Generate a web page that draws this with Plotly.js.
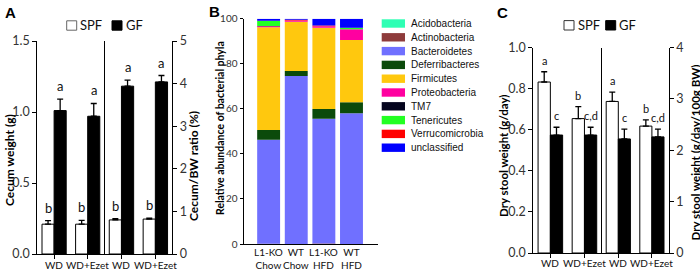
<!DOCTYPE html>
<html>
<head>
<meta charset="utf-8">
<script src="https://cdn.plot.ly/plotly-3.0.1.min.js"></script>
<style>html,body{margin:0;padding:0;background:#fff;}#chart{width:700px;height:271px;}</style>
</head>
<body>
<div id="chart"></div>
<script>
// ---------------- DATA ----------------
// Panel A / C diet groups
const dietGroups = ['WD', 'WD+Ezet'];
const seriesNames = ['SPF', 'GF'];

// Panel A - cecum weight (g), left half
const cecumWeightSPF = [0.21, 0.21];
const cecumWeightSPFErr = [0.025, 0.027];
const cecumWeightGF = [1.01, 0.97];
const cecumWeightGFErr = [0.08, 0.09];
const cecumWeightSPFLetters = ['b', 'b'];
const cecumWeightGFLetters = ['a', 'a'];
// Panel A - cecum/BW ratio (%), right half
const cecumRatioSPF = [0.80, 0.82];
const cecumRatioSPFErr = [0.03, 0.02];
const cecumRatioGF = [3.94, 4.04];
const cecumRatioGFErr = [0.14, 0.15];
const cecumRatioSPFLetters = ['b', 'b'];
const cecumRatioGFLetters = ['a', 'a'];

// Panel B - relative abundance of bacterial phyla (%)
const phylaGroups = ['L1-KO<br>Chow', 'WT<br>Chow', 'L1-KO<br>HFD', 'WT<br>HFD'];
const phylaNames = ['Acidobacteria', 'Actinobacteria', 'Bacteroidetes', 'Deferribacteres', 'Firmicutes',
                    'Proteobacteria', 'TM7', 'Tenericutes', 'Verrucomicrobia', 'unclassified'];
const phylaColors = ['#2EFFB4', '#8E3B3B', '#7070FF', '#0B4A0B', '#FFC80E',
                     '#FF00A0', '#05051E', '#22FF22', '#FF0000', '#0000FF'];
const acidobacteria   = [0.0, 0.0, 0.0, 0.0];
const actinobacteria  = [0.1, 0.0, 0.2, 0.0];
const bacteroidetes   = [46.2, 74.6, 55.4, 58.0];
const deferribacteres = [4.3, 2.2, 4.3, 4.9];
const firmicutes      = [45.6, 21.8, 36.1, 27.6];
const proteobacteria  = [0.5, 0.6, 0.6, 4.8];
const tm7             = [0.1, 0.0, 0.0, 0.0];
const tenericutes     = [2.2, 0.0, 0.1, 0.6];
const verrucomicrobia = [0.1, 0.3, 0.3, 0.1];
const unclassified    = [0.9, 0.5, 3.0, 4.0];
const phylaValues = [acidobacteria, actinobacteria, bacteroidetes, deferribacteres, firmicutes,
                     proteobacteria, tm7, tenericutes, verrucomicrobia, unclassified];

// Panel C - dry stool weight (g/day), left half
const stoolSPF = [0.832, 0.654];
const stoolSPFErr = [0.05, 0.058];
const stoolGF = [0.574, 0.574];
const stoolGFErr = [0.038, 0.038];
const stoolSPFLetters = ['a', 'b'];
const stoolGFLetters = ['c', 'c,d'];
// Panel C - dry stool weight (g/day/100g BW), right half
const stoolBWSPF = [2.95, 2.47];
const stoolBWSPFErr = [0.18, 0.12];
const stoolBWGF = [2.22, 2.26];
const stoolBWGFErr = [0.19, 0.15];
const stoolBWSPFLetters = ['a', 'b'];
const stoolBWGFLetters = ['c', 'c,d'];

// ---------------- LAYOUT HELPERS ----------------
const W = 700, H = 271;
const px = v => v / W;
const py = v => 1 - v / H;
const FONT = 'Lato, "Open Sans", sans-serif';
const ARIAL = '"Liberation Sans", Arial, sans-serif';
const TICKCOL = '#333';
const BW = 0.36; // bar width (category units) for A and C

const traces = [];
const annotations = [];
const shapes = [];

function pairTraces(xa, ya, spf, spfErr, gf, gfErr, spfLet, gfLet, letterSize, tickY) {
  const zeros = spf.map(() => 0);
  traces.push({
    type: 'bar', x: dietGroups, y: spf, xaxis: xa, yaxis: ya, name: seriesNames[0],
    width: BW, offset: -BW, marker: {color: '#fff', line: {color: '#000', width: 1}},
    error_y: {type: 'data', symmetric: false, array: spfErr, arrayminus: zeros, color: '#000', thickness: 1.3, width: 3},
    hoverinfo: 'skip', showlegend: false
  });
  traces.push({
    type: 'bar', x: dietGroups, y: gf, xaxis: xa, yaxis: ya, name: seriesNames[1],
    width: BW, offset: 0, marker: {color: '#000', line: {color: '#000', width: 1}},
    error_y: {type: 'data', symmetric: false, array: gfErr, arrayminus: zeros, color: '#000', thickness: 1.3, width: 3},
    hoverinfo: 'skip', showlegend: false
  });
  dietGroups.forEach((g, i) => {
    annotations.push({xref: xa, yref: ya, x: i - BW / 2, y: spf[i] + spfErr[i], text: spfLet[i],
      showarrow: false, yanchor: 'bottom', yshift: 3, font: {family: FONT, size: letterSize, color: '#111'}});
    annotations.push({xref: xa, yref: ya, x: i + BW / 2, y: gf[i] + gfErr[i], text: gfLet[i],
      showarrow: false, yanchor: 'bottom', yshift: 3, font: {family: FONT, size: letterSize, color: '#111'}});
    // category tick label
    annotations.push({xref: xa, yref: 'paper', x: g, y: py(tickY), text: g, showarrow: false,
      xanchor: 'center', yanchor: 'middle', font: {family: FONT, size: 10, color: '#111'}});
  });
}

pairTraces('x', 'y', cecumWeightSPF, cecumWeightSPFErr, cecumWeightGF, cecumWeightGFErr, cecumWeightSPFLetters, cecumWeightGFLetters, 13, 264.5);
pairTraces('x2', 'y2', cecumRatioSPF, cecumRatioSPFErr, cecumRatioGF, cecumRatioGFErr, cecumRatioSPFLetters, cecumRatioGFLetters, 13, 264.5);
pairTraces('x4', 'y4', stoolSPF, stoolSPFErr, stoolGF, stoolGFErr, stoolSPFLetters, stoolGFLetters, 11, 263);
pairTraces('x5', 'y5', stoolBWSPF, stoolBWSPFErr, stoolBWGF, stoolBWGFErr, stoolBWSPFLetters, stoolBWGFLetters, 11, 263);

// Panel B stacked bars (base = cumulative sum of the phyla below)
let running = phylaGroups.map(() => 0);
phylaValues.forEach((vals, k) => {
  traces.push({
    type: 'bar', x: phylaGroups, y: vals, base: running.slice(), xaxis: 'x3', yaxis: 'y3',
    name: phylaNames[k], width: 0.83, marker: {color: phylaColors[k], line: {width: 0}},
    hoverinfo: 'skip', showlegend: false
  });
  running = running.map((r, i) => r + vals[i]);
});
phylaGroups.forEach(g => {
  annotations.push({xref: 'x3', yref: 'paper', x: g, y: py(258.5), text: g, showarrow: false,
    xanchor: 'center', yanchor: 'middle', font: {family: FONT, size: 10, color: '#111'}});
});

// Panel B legend (custom, swatches + labels)
phylaNames.forEach((n, k) => {
  const y0 = 19.3 + k * 13.8;
  shapes.push({type: 'rect', xref: 'paper', yref: 'paper', x0: px(381.7), x1: px(405), y0: py(y0), y1: py(y0 + 8.4),
    fillcolor: phylaColors[k], line: {width: 0}});
  annotations.push({xref: 'paper', yref: 'paper', x: px(409), y: py(y0 + 4.2), xanchor: 'left', yanchor: 'middle',
    text: n, showarrow: false, font: {family: ARIAL, size: 10, color: '#111'}});
});

// SPF / GF legends for A and C
function pairLegend(xs, xg, yc, size, outline) {
  shapes.push({type: 'rect', xref: 'paper', yref: 'paper', x0: px(xs), x1: px(xs + 10), y0: py(yc - 4.7), y1: py(yc + 4.7),
    fillcolor: '#fff', line: {color: outline, width: 1}});
  shapes.push({type: 'rect', xref: 'paper', yref: 'paper', x0: px(xg), x1: px(xg + 10), y0: py(yc - 4.7), y1: py(yc + 4.7),
    fillcolor: '#000', line: {color: '#000', width: 1}});
  annotations.push({xref: 'paper', yref: 'paper', x: px(xs + 11.5), y: py(yc), xanchor: 'left', yanchor: 'middle',
    text: seriesNames[0], showarrow: false, font: {family: FONT, size: size, color: '#111'}});
  annotations.push({xref: 'paper', yref: 'paper', x: px(xg + 11.5), y: py(yc), xanchor: 'left', yanchor: 'middle',
    text: seriesNames[1], showarrow: false, font: {family: FONT, size: size, color: '#111'}});
}
pairLegend(66.7, 112, 25.5, 13, '#666');
pairLegend(564, 605.7, 25.3, 13, '#333');

// Panel letters and axis titles
function label(text, x, y, size, angle) {
  annotations.push({xref: 'paper', yref: 'paper', x: px(x), y: py(y), xanchor: 'center', yanchor: 'middle',
    text: text, showarrow: false, textangle: angle || 0,
    font: {family: angle ? FONT : ARIAL, size: size, color: '#000', weight: 'bold'}});
}
label('A', 10, 12.5, 15);
label('B', 214, 11.5, 15);
label('C', 503, 12.5, 15);
label('Cecum weight (g)', 9, 160, 12, -90);
label('Cecum/BW ratio (%)', 193, 166, 12, -90);
label('Relative abundance of bacterial phyla', 220, 128, 10.5, -90);
label('Dry stool weight (g/day)', 503, 156, 11.5, -90);
label('Dry stool weight (g/day/100g BW)', 695, 152.5, 11.5, -90);

// ---------------- AXES ----------------
const yA = [py(254), py(41)];
const yB = [py(244), py(18.7)];
const yC = [py(253), py(47.5)];

function xAx(domain, anchor, extra) {
  return Object.assign({domain: domain, anchor: anchor, type: 'category', showline: true, linecolor: '#000', linewidth: 1,
    ticks: 'outside', ticklen: 4, tickcolor: '#000', showgrid: false, zeroline: false, fixedrange: true,
    showticklabels: false, automargin: false, range: [-0.5, 1.5]}, extra || {});
}
function yAx(domain, anchor, range, dtick, fmt, side, extra) {
  return Object.assign({domain: domain, anchor: anchor, range: range, dtick: dtick, tick0: 0, tickformat: fmt, side: side,
    showline: true, linecolor: '#000', linewidth: 1, ticks: 'outside', ticklen: 4, tickcolor: '#000', automargin: false,
    showgrid: false, zeroline: false, fixedrange: true, tickfont: {family: FONT, size: 12.5, color: TICKCOL}}, extra || {});
}

const layout = {
  width: W, height: H, autosize: false,
  margin: {l: 0, r: 0, t: 0, b: 0, pad: 0},
  paper_bgcolor: '#fff', plot_bgcolor: 'rgba(0,0,0,0)',
  barmode: 'overlay', showlegend: false,
  font: {family: FONT, color: '#111'},
  xaxis:  xAx([px(37.3), px(104.5)], 'y'),
  xaxis2: xAx([px(104.5), px(172.3)], 'y2'),
  xaxis3: xAx([px(243.5), px(378)], 'y3', {range: [-0.91, 3.96], ticks: ''}),
  xaxis4: xAx([px(533.3), px(601.5)], 'y4'),
  xaxis5: xAx([px(601.5), px(668.7)], 'y5'),
  yaxis:  yAx(yA, 'x', [0, 1.5], 0.5, '.1f', 'left'),
  yaxis2: yAx(yA, 'x2', [0, 5], 1, 'd', 'right', {mirror: true}),
  yaxis3: yAx(yB, 'x3', [0, 100], 20, 'd', 'left', {ticklen: 3, tickfont: {family: FONT, size: 10, color: TICKCOL}}),
  yaxis4: yAx(yC, 'x4', [0, 1], 0.2, '.1f', 'left'),
  yaxis5: yAx(yC, 'x5', [0, 4], 1, 'd', 'right', {mirror: true}),
  annotations: annotations,
  shapes: shapes
};

Plotly.newPlot('chart', traces, layout, {displayModeBar: false, staticPlot: true});
</script>
</body>
</html>
